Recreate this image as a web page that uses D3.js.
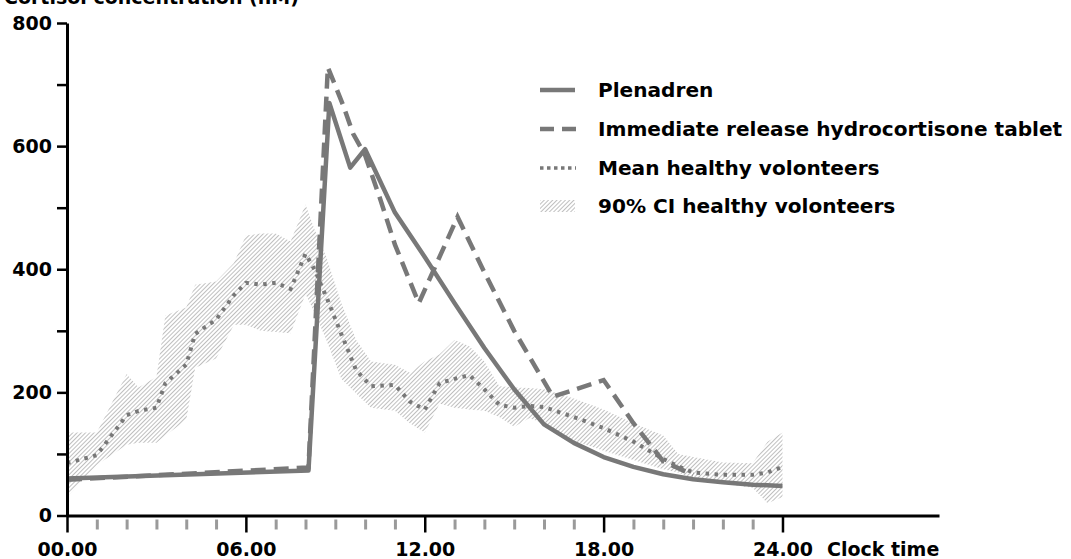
<!DOCTYPE html>
<html>
<head>
<meta charset="utf-8" />
<title>Cortisol concentration</title>
<script src="https://d3js.org/d3.v7.min.js"></script>
<style type="text/css">
body { margin: 0; background: #fff; }
svg text { font-family: "DejaVu Sans", sans-serif; font-weight: bold; fill: #000; }
</style>
</head>
<body>
<div id="svg"></div>
<script type="text/javascript">
// mean + 90% CI healthy volunteers
var ciHours  = [0, 1, 2, 2.4, 3, 3.3, 4, 4.3, 5, 5.6, 6, 6.5, 7, 7.5, 8, 8.3, 8.7, 9.2, 9.7, 10.2, 11, 11.5, 12, 12.5, 13, 13.5, 14, 14.5, 15, 15.5, 16, 17, 18, 19, 20, 20.5, 21, 22, 23, 23.5, 24];
var meanVals = [85, 98, 163, 170, 175, 215, 245, 295, 318, 358, 378, 375, 378, 368, 425, 400, 355, 295, 236, 210, 212, 185, 172, 215, 222, 228, 205, 180, 175, 178, 176, 160, 142, 120, 92, 80, 70, 66, 66, 70, 79];
var ciUpper  = [135, 135, 230, 208, 225, 325, 338, 375, 380, 410, 455, 458, 458, 445, 505, 465, 420, 345, 285, 250, 245, 232, 250, 262, 285, 275, 250, 210, 208, 207, 205, 190, 172, 150, 130, 100, 95, 86, 85, 120, 135];
var ciLower  = [30, 82, 115, 118, 118, 130, 155, 240, 255, 310, 310, 300, 298, 296, 360, 330, 285, 222, 198, 175, 170, 150, 135, 182, 175, 172, 170, 160, 144, 158, 150, 122, 105, 90, 75, 70, 60, 52, 45, 20, 30];

// Plenadren
var plenHours = [0, 8.1, 8.8, 9.5, 10, 11, 12, 13, 14, 15, 16, 17, 18, 19, 20, 21, 22, 23, 24];
var plenVals  = [60, 73, 670, 565, 595, 492, 420, 345, 272, 205, 148, 118, 95, 79, 67, 59, 54, 50, 48];

// immediate release hydrocortisone tablet
var irHours = [0, 8.1, 8.75, 9.25, 9.6, 10, 10.5, 11, 11.8, 13.1, 14, 15, 16.3, 18, 19, 20, 21];
var irVals  = [58, 78, 728, 668, 620, 585, 515, 440, 345, 485, 395, 300, 193, 220, 150, 88, 66];

var yTicks = [0, 100, 200, 300, 400, 500, 600, 700, 800];
var yLabels = ["0", "", "200", "", "400", "", "600", "", "800"];
var xMajor = [0, 6, 12, 18, 24];
var xLabels = ["00.00", "06.00", "12.00", "18.00", "24.00"];
var xMinor = [1, 2, 3, 4, 5, 7, 8, 9, 10, 11, 13, 14, 15, 16, 17, 19, 20, 21, 22, 23];

var legendNames = ["Plenadren", "Immediate release hydrocortisone tablet", "Mean healthy volonteers", "90% CI healthy volonteers"];

var width = 1071,
    height = 559,
    grey = "#787878";

var svg = d3.select("#svg")
    .append("svg")
    .attr("width", width)
    .attr("height", height);

var defs = svg.append("defs");
var hatch = defs.append("pattern")
    .attr("id", "hatch")
    .attr("patternUnits", "userSpaceOnUse")
    .attr("width", 3)
    .attr("height", 3)
    .attr("patternTransform", "rotate(45)");
hatch.append("line")
    .attr("x1", 0).attr("y1", 0)
    .attr("x2", 0).attr("y2", 3)
    .attr("stroke", "#9c9c9c")
    .attr("stroke-width", 1.3);

var xScale = d3.scaleLinear()
    .domain([0, 29.25])
    .range([67, 939]);

var yScale = d3.scaleLinear()
    .domain([0, 800])
    .range([515.5, 23]);

// CI band
var ciData = ciHours.map((h, i) => ({h: h, m: meanVals[i], lo: ciLower[i], hi: ciUpper[i]}));

var area = d3.area()
    .x(d => xScale(d.h))
    .y0(d => yScale(d.lo))
    .y1(d => yScale(d.hi));

svg.append("path")
    .datum(ciData)
    .attr("d", area)
    .attr("fill", "url(#hatch)");

var lineFn = d3.line()
    .x(d => xScale(d[0]))
    .y(d => yScale(d[1]));

svg.append("path")
    .datum(ciHours.map((h, i) => [h, meanVals[i]]))
    .attr("d", lineFn)
    .attr("fill", "none")
    .attr("stroke", grey)
    .attr("stroke-width", 4)
    .attr("stroke-dasharray", "3.5,5.5");

svg.append("path")
    .datum(irHours.map((h, i) => [h, irVals[i]]))
    .attr("d", lineFn)
    .attr("fill", "none")
    .attr("stroke", grey)
    .attr("stroke-width", 4.5)
    .attr("stroke-dasharray", "15,8");

svg.append("path")
    .datum(plenHours.map((h, i) => [h, plenVals[i]]))
    .attr("d", lineFn)
    .attr("fill", "none")
    .attr("stroke", grey)
    .attr("stroke-width", 4.5)
    .attr("stroke-linejoin", "round");

// axes
var yAxis = d3.axisLeft(yScale)
    .tickValues(yTicks)
    .tickFormat((d, i) => yLabels[i])
    .tickSize(10)
    .tickSizeOuter(0)
    .tickPadding(5);

var gY = svg.append("g")
    .attr("transform", "translate(67,0)")
    .call(yAxis);
gY.select(".domain").attr("stroke", "#000").attr("stroke-width", 3);
gY.selectAll(".tick line").attr("stroke", "#000").attr("stroke-width", 2.5);
gY.selectAll(".tick text")
    .attr("font-size", 19)
    .attr("font-family", "DejaVu Sans")
    .attr("font-weight", "bold");

var xMinorAxis = d3.axisBottom(xScale)
    .tickValues(xMinor)
    .tickFormat("")
    .tickSize(14)
    .tickSizeOuter(0);

var gXm = svg.append("g")
    .attr("transform", "translate(0,515.5)")
    .call(xMinorAxis);
gXm.select(".domain").remove();
gXm.selectAll(".tick line").attr("y1", 4).attr("stroke", "#9a9a9a").attr("stroke-width", 3);

var xAxis = d3.axisBottom(xScale)
    .tickValues(xMajor)
    .tickFormat((d, i) => xLabels[i])
    .tickSize(17)
    .tickSizeOuter(0)
    .tickPadding(10);

var gX = svg.append("g")
    .attr("transform", "translate(0,515.5)")
    .call(xAxis);
gX.select(".domain").attr("stroke", "#000").attr("stroke-width", 3);
gX.selectAll(".tick line").attr("stroke", "#000").attr("stroke-width", 2.5);
gX.selectAll(".tick text")
    .attr("font-size", 19)
    .attr("font-family", "DejaVu Sans")
    .attr("font-weight", "bold");

svg.append("text")
    .attr("x", 827)
    .attr("y", 556)
    .attr("font-size", 19)
    .text("Clock time");

// axis title sits partly above the top edge, as in the original
svg.append("text")
    .attr("x", 4)
    .attr("y", 4)
    .attr("font-size", 19)
    .text("Cortisol concentration (nM)");

// legend
var legend = svg.append("g").attr("transform", "translate(540,0)");
var rowY = [90, 129, 168, 206];

legend.selectAll(".lgtext")
    .data(legendNames)
    .enter()
    .append("text")
    .attr("class", "lgtext")
    .attr("x", 58)
    .attr("y", (d, i) => rowY[i] + 7)
    .attr("font-size", 20.1)
    .text(d => d);

legend.append("line")
    .attr("x1", 0).attr("x2", 35)
    .attr("y1", rowY[0]).attr("y2", rowY[0])
    .attr("stroke", grey).attr("stroke-width", 4.5);
legend.append("line")
    .attr("x1", 0).attr("x2", 37)
    .attr("y1", rowY[1]).attr("y2", rowY[1])
    .attr("stroke", grey).attr("stroke-width", 4.5)
    .attr("stroke-dasharray", "14,8");
legend.append("line")
    .attr("x1", 0).attr("x2", 36)
    .attr("y1", rowY[2]).attr("y2", rowY[2])
    .attr("stroke", grey).attr("stroke-width", 3.5)
    .attr("stroke-dasharray", "3.5,3.5");
legend.append("rect")
    .attr("x", 0).attr("y", rowY[3] - 6)
    .attr("width", 35).attr("height", 12)
    .attr("fill", "url(#hatch)");
</script>
</body>
</html>
